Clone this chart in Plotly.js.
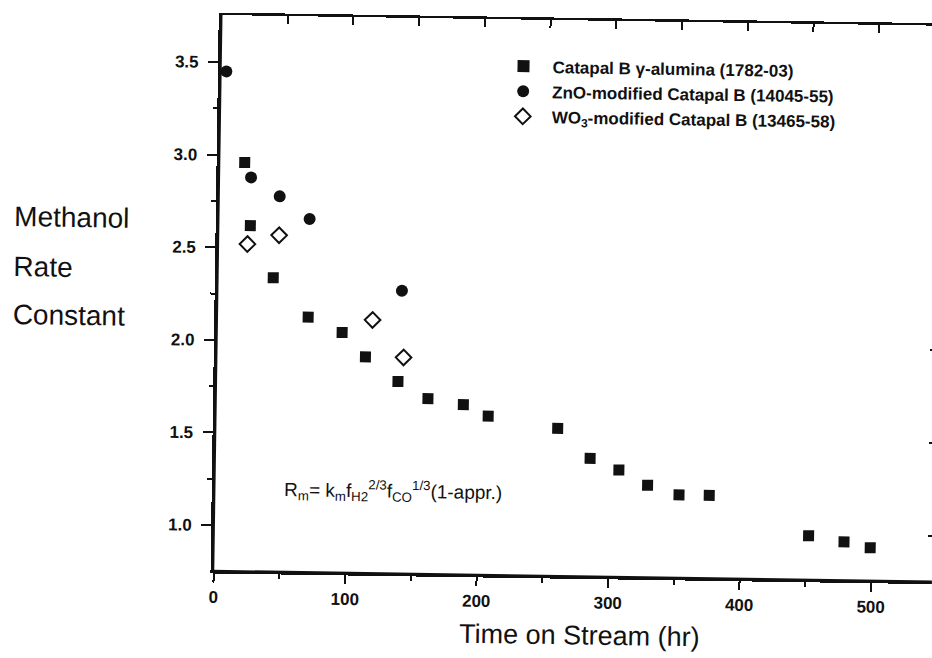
<!DOCTYPE html>
<html><head><meta charset="utf-8">
<script src="https://cdn.plot.ly/plotly-3.0.1.min.js"></script>
<style>
body{margin:0;background:#fff;overflow:hidden}
#c{width:932px;height:658px;transform:rotate(0.85deg);transform-origin:213px 571px}
</style>
</head><body><div id="c"></div>
<script>
const seriesNames = ["Catapal B \u03b3-alumina (1782-03)", "ZnO-modified Catapal B (14045-55)", "WO<sub>3</sub>-modified Catapal B (13465-58)"];
const catapalX = [19, 24, 42, 69, 95, 113, 138, 161, 188, 207, 260, 285, 307, 329, 353, 376, 452, 479, 499];
const catapalY = [2.96, 2.62, 2.34, 2.13, 2.05, 1.92, 1.79, 1.70, 1.67, 1.61, 1.55, 1.39, 1.33, 1.25, 1.20, 1.20, 0.99, 0.96, 0.93];
const znoX = [4, 24, 46, 69, 140];
const znoY = [3.45, 2.88, 2.78, 2.66, 2.28];
const wo3X = [22, 46, 118, 142];
const wo3Y = [2.52, 2.57, 2.12, 1.92];
const xTicks = [0, 100, 200, 300, 400, 500];
const xMinor = [50, 150, 250, 350, 450];
const xTopTicks = [0, 50, 100, 150, 200, 250, 300, 350, 400, 450, 500];
const yTicks = [1.0, 1.5, 2.0, 2.5, 3.0, 3.5];
const yMinor = [1.25, 1.75, 2.25, 2.75, 3.25];
const yTitleLines = ["Methanol", "Rate", "Constant"];
const xTitle = "Time on Stream (hr)";
const formula = "R<sub>m</sub>= k<sub>m</sub>f<sub>H2</sub><sup>2/3</sup>f<sub>CO</sub><sup>1/3</sup>(1-appr.)";

const F = "Arial, 'Liberation Sans', sans-serif";
const INK = "#111";
const xRange = [-0.5, 546.3], yRange = [0.752, 3.754];
const traces = [
  {x: catapalX, y: catapalY, name: seriesNames[0], mode: "markers", type: "scatter",
   marker: {symbol: "square", size: 11, color: INK}},
  {x: znoX, y: znoY, name: seriesNames[1], mode: "markers", type: "scatter",
   marker: {symbol: "circle", size: 12, color: INK}},
  {x: wo3X, y: wo3Y, name: seriesNames[2], mode: "markers", type: "scatter",
   marker: {symbol: "diamond-open", size: 12, color: INK, line: {width: 2, color: INK}}},
  {x: [], y: [], xaxis: "x2", yaxis: "y2", showlegend: false, mode: "markers", type: "scatter"},
  {x: [], y: [], xaxis: "x3", yaxis: "y3", showlegend: false, mode: "markers", type: "scatter"}
];
const plotTop = 15, plotBottom = 571, plotLeft = 213, plotRight = 932;
const ph = plotBottom - plotTop, pw = plotRight - plotLeft;
function py(pix){ return (plotBottom - pix) / ph; }
function px(pix){ return (pix - plotLeft) / pw; }
const titleY = [219, 269, 318];
const ann = yTitleLines.map((t, i) => ({
  text: t, xref: "paper", yref: "paper", x: px(7), y: py(titleY[i]),
  xanchor: "left", yanchor: "middle", showarrow: false, font: {family: F, size: 28, color: INK}
}));
ann.push({text: xTitle, xref: "paper", yref: "paper", x: px(580), y: py(630), xanchor: "center", yanchor: "middle",
  showarrow: false, font: {family: F, size: 27, color: INK}});
ann.push({text: formula, xref: "x", yref: "y", x: 51, y: 1.195, xanchor: "left", yanchor: "middle",
  showarrow: false, font: {family: F, size: 19, color: INK}});
const axBase = {showgrid: false, zeroline: false, linecolor: INK, tickcolor: INK, tickwidth: 2};
const frameLine = {type: "line", xref: "paper", yref: "paper", layer: "above", line: {color: INK, width: 2.5}};
const layout = {
  width: 932, height: 658,
  margin: {l: plotLeft, r: 932 - plotRight, t: plotTop, b: 658 - plotBottom},
  paper_bgcolor: "rgba(0,0,0,0)", plot_bgcolor: "rgba(0,0,0,0)",
  showlegend: true,
  legend: {x: px(487), y: py(44), xanchor: "left", yanchor: "top", bgcolor: "rgba(0,0,0,0)", itemwidth: 48,
    font: {family: F, size: 17, color: INK, weight: "bold"}, itemsizing: "constant"},
  xaxis: Object.assign({}, axBase, {range: xRange, tickvals: xTicks, ticktext: xTicks.map(String),
    showline: true, linewidth: 2.5, ticks: "outside", ticklen: 9,
    tickfont: {family: F, size: 17, color: INK, weight: "bold"}}),
  yaxis: Object.assign({}, axBase, {range: yRange, tickvals: yTicks, ticktext: yTicks.map(v => v.toFixed(1)),
    showline: true, linewidth: 2.5, ticks: "outside", ticklen: 10, ticklabelstandoff: 6,
    tickfont: {family: F, size: 17, color: INK, weight: "bold"}}),
  xaxis2: Object.assign({}, axBase, {range: xRange, overlaying: "x", side: "top", anchor: "y", tickvals: xTopTicks,
    showticklabels: false, showline: true, linewidth: 2.5, ticks: "inside", ticklen: 8}),
  yaxis2: Object.assign({}, axBase, {range: yRange, overlaying: "y", side: "right", anchor: "x", tickvals: yTicks,
    showticklabels: false, showline: true, linewidth: 2, ticks: "inside", ticklen: 5}),
  xaxis3: Object.assign({}, axBase, {range: xRange, overlaying: "x", side: "bottom", anchor: "y", tickvals: xMinor,
    showticklabels: false, showline: false, ticks: "outside", ticklen: 6}),
  yaxis3: Object.assign({}, axBase, {range: yRange, overlaying: "y", side: "left", anchor: "x", tickvals: yMinor,
    showticklabels: false, showline: false, ticks: "outside", ticklen: 6}),
  shapes: [
    Object.assign({}, frameLine, {x0: 0, x1: 0, y0: 0, y1: 1}),
    Object.assign({}, frameLine, {x0: 0, x1: 1, y0: 0, y1: 0})
  ],
  annotations: ann
};
Plotly.newPlot("c", traces, layout, {displayModeBar: false, staticPlot: true});
</script></body></html>
